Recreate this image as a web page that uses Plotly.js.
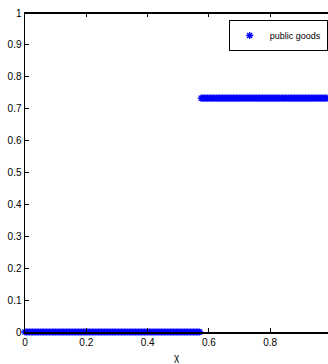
<!DOCTYPE html>
<html>
<head>
<meta charset="utf-8">
<script src="https://cdn.plot.ly/plotly-3.0.1.min.js"></script>
<style>html,body{margin:0;padding:0;background:#fff;}#chart{width:328px;height:364px;}</style>
</head>
<body>
<div id="chart"></div>
<script>
const seriesName = "public goods";
const chi = [0.000,0.005,0.010,0.015,0.020,0.025,0.030,0.035,0.040,0.045,
  0.050,0.055,0.060,0.065,0.070,0.075,0.080,0.085,0.090,0.095,
  0.100,0.105,0.110,0.115,0.120,0.125,0.130,0.135,0.140,0.145,
  0.150,0.155,0.160,0.165,0.170,0.175,0.180,0.185,0.190,0.195,
  0.200,0.205,0.210,0.215,0.220,0.225,0.230,0.235,0.240,0.245,
  0.250,0.255,0.260,0.265,0.270,0.275,0.280,0.285,0.290,0.295,
  0.300,0.305,0.310,0.315,0.320,0.325,0.330,0.335,0.340,0.345,
  0.350,0.355,0.360,0.365,0.370,0.375,0.380,0.385,0.390,0.395,
  0.400,0.405,0.410,0.415,0.420,0.425,0.430,0.435,0.440,0.445,
  0.450,0.455,0.460,0.465,0.470,0.475,0.480,0.485,0.490,0.495,
  0.500,0.505,0.510,0.515,0.520,0.525,0.530,0.535,0.540,0.545,
  0.550,0.555,0.560,0.565,0.570,0.575,0.580,0.585,0.590,0.595,
  0.600,0.605,0.610,0.615,0.620,0.625,0.630,0.635,0.640,0.645,
  0.650,0.655,0.660,0.665,0.670,0.675,0.680,0.685,0.690,0.695,
  0.700,0.705,0.710,0.715,0.720,0.725,0.730,0.735,0.740,0.745,
  0.750,0.755,0.760,0.765,0.770,0.775,0.780,0.785,0.790,0.795,
  0.800,0.805,0.810,0.815,0.820,0.825,0.830,0.835,0.840,0.845,
  0.850,0.855,0.860,0.865,0.870,0.875,0.880,0.885,0.890,0.895,
  0.900,0.905,0.910,0.915,0.920,0.925,0.930,0.935,0.940,0.945,
  0.950,0.955,0.960,0.965,0.970,0.975,0.980,0.985,0.990,0.995,1.000];
const publicGoods = [0,0,0,0,0,0,0,0,0,0,
  0,0,0,0,0,0,0,0,0,0,
  0,0,0,0,0,0,0,0,0,0,
  0,0,0,0,0,0,0,0,0,0,
  0,0,0,0,0,0,0,0,0,0,
  0,0,0,0,0,0,0,0,0,0,
  0,0,0,0,0,0,0,0,0,0,
  0,0,0,0,0,0,0,0,0,0,
  0,0,0,0,0,0,0,0,0,0,
  0,0,0,0,0,0,0,0,0,0,
  0,0,0,0,0,0,0,0,0,0,
  0,0,0,0,0,0.733,0.733,0.733,0.733,0.733,
  0.733,0.733,0.733,0.733,0.733,0.733,0.733,0.733,0.733,0.733,
  0.733,0.733,0.733,0.733,0.733,0.733,0.733,0.733,0.733,0.733,
  0.733,0.733,0.733,0.733,0.733,0.733,0.733,0.733,0.733,0.733,
  0.733,0.733,0.733,0.733,0.733,0.733,0.733,0.733,0.733,0.733,
  0.733,0.733,0.733,0.733,0.733,0.733,0.733,0.733,0.733,0.733,
  0.733,0.733,0.733,0.733,0.733,0.733,0.733,0.733,0.733,0.733,
  0.733,0.733,0.733,0.733,0.733,0.733,0.733,0.733,0.733,0.733,
  0.733,0.733,0.733,0.733,0.733,0.733,0.733,0.733,0.733,0.733,0.733];
const xTicks = [0, 0.2, 0.4, 0.6, 0.8];
const xTickText = ["0", "0.2", "0.4", "0.6", "0.8"];
const yTicks = [0, 0.1, 0.2, 0.3, 0.4, 0.5, 0.6, 0.7, 0.8, 0.9, 1];
const yTickText = ["0", "0.1", "0.2", "0.3", "0.4", "0.5", "0.6", "0.7", "0.8", "0.9", "1"];

const trace = {
  x: chi, y: publicGoods, type: 'scatter', mode: 'markers', name: seriesName,
  cliponaxis: false,
  marker: {symbol: 'asterisk-open', size: 6, color: '#0000ff', line: {color: '#0000ff', width: 1.3}}
};
const fontF = 'Liberation Sans, Arial, Helvetica, sans-serif';
const layout = {
  width: 328, height: 364,
  margin: {l: 25, r: 0, t: 13, b: 32, pad: 0},
  paper_bgcolor: '#fff', plot_bgcolor: '#fff',
  font: {family: fontF, size: 10, color: '#000'},
  showlegend: true,
  legend: {x: 0.999, xanchor: 'right', y: 0.978, yanchor: 'top', bgcolor: '#fff',
    bordercolor: '#000', borderwidth: 1, font: {size: 9, family: fontF},
    itemwidth: 30, tracegroupgap: 0},
  shapes: [{type: 'line', xref: 'paper', yref: 'paper', x0: 0, x1: 1, y0: 1, y1: 1,
    line: {color: '#000', width: 2}, layer: 'above'}],
  xaxis: {range: [0, 0.9886], tickvals: xTicks, ticktext: xTickText,
    showgrid: false, zeroline: false, showline: true, linecolor: '#000', linewidth: 1.5,
    mirror: 'ticks', ticks: 'inside', ticklen: 4, tickcolor: '#000',
    title: {text: 'χ', standoff: 7, font: {size: 10}}},
  yaxis: {range: [0, 1], tickvals: yTicks, ticktext: yTickText,
    showgrid: false, zeroline: false, showline: true, linecolor: '#000', linewidth: 1.5,
    mirror: false, ticks: 'inside', ticklen: 4, tickcolor: '#000'}
};
Plotly.newPlot('chart', [trace], layout, {displayModeBar: false, staticPlot: true});
</script>
</body>
</html>
